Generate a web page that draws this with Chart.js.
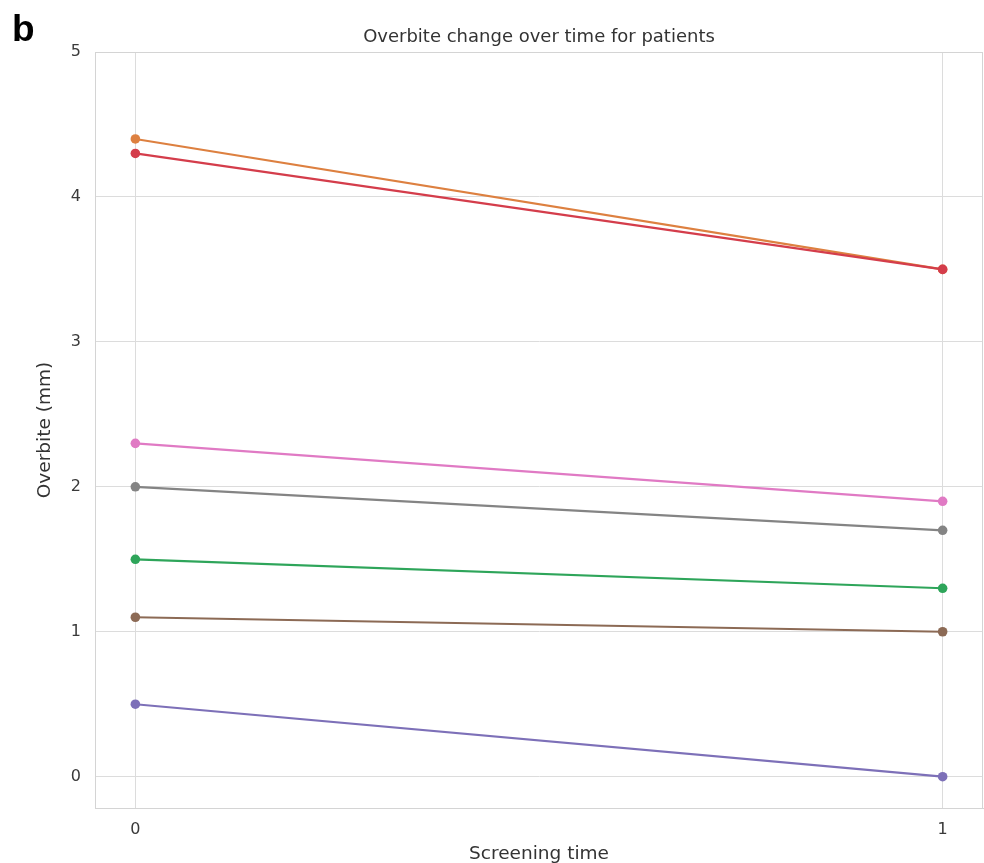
<!DOCTYPE html>
<html>
<head>
<meta charset="utf-8">
<script src="https://cdn.jsdelivr.net/npm/chart.js@4/dist/chart.umd.min.js"></script>
<style>
  html, body { margin: 0; padding: 0; background: #ffffff; }
  #wrap { position: relative; width: 984px; height: 863px; }
  #panel { position: absolute; left: 12px; top: 8px; font-family: "Liberation Sans", Arial, sans-serif; font-weight: bold; font-size: 37px; color: #000; }
</style>
</head>
<body>
<div id="wrap">
  <canvas id="c" width="984" height="863"></canvas>
  <div id="panel">b</div>
</div>
<script>
// Data
const screeningTimes = [0, 1];
const xTickValues = [0, 1];
const yTickValues = [0, 1, 2, 3, 4, 5];
const seriesNames = ["P1", "P2", "P3", "P4", "P5", "P6", "P7"];
const orangeValues = [4.4, 3.5];
const redValues = [4.3, 3.5];
const pinkValues = [2.3, 1.9];
const grayValues = [2.0, 1.7];
const greenValues = [1.5, 1.3];
const brownValues = [1.1, 1.0];
const purpleValues = [0.5, 0.0];
const seriesValues = [orangeValues, greenValues, redValues, purpleValues, brownValues, pinkValues, grayValues];
const seriesColors = ["#dd8040", "#2ea55a", "#d43d4b", "#7d70b8", "#8c6a55", "#e07ac4", "#848484"];

const n = seriesValues.length;
const datasets = seriesValues.map((vals, i) => ({
  label: seriesNames[i],
  data: screeningTimes.map((t, j) => ({ x: t, y: vals[j] })),
  borderColor: seriesColors[i],
  backgroundColor: seriesColors[i],
  borderWidth: 2.2,
  pointRadius: 4.8,
  pointHoverRadius: 4.8,
  pointBorderWidth: 0,
  tension: 0,
  order: n - i
}));

const frame = {
  id: 'frame',
  afterDraw(chart) {
    const { ctx, chartArea: a } = chart;
    ctx.save();
    ctx.strokeStyle = '#d4d4d4';
    ctx.lineWidth = 1;
    ctx.strokeRect(Math.round(a.left) + 0.5, Math.round(a.top) + 0.5, Math.round(a.right - a.left) - 1, Math.round(a.bottom - a.top));
    ctx.restore();
  }
};

const font = "'DejaVu Sans', sans-serif";

new Chart(document.getElementById('c'), {
  type: 'line',
  data: { datasets },
  plugins: [frame],
  options: {
    responsive: false,
    animation: false,
    layout: { autoPadding: false, padding: { top: 0, right: 1, bottom: 0, left: 0 } },
    plugins: {
      legend: { display: false },
      tooltip: { enabled: false },
      title: { display: false }
    },
    scales: {
      xTop: {
        type: 'linear',
        position: 'top',
        min: -0.05,
        max: 1.05,
        afterFit: s => { s.height = 52; },
        ticks: { display: false },
        grid: { display: false, drawTicks: false },
        border: { display: false },
        title: { display: true, text: 'Overbite change over time for patients', color: '#333333', font: { family: font, size: 18 }, padding: { top: 27, bottom: 0 } }
      },
      x: {
        type: 'linear',
        position: 'bottom',
        min: -0.05,
        max: 1.05,
        afterBuildTicks: s => { s.ticks = xTickValues.map(v => ({ value: v })); },
        afterFit: s => { s.height = 55; },
        ticks: { color: '#3a3a3a', font: { family: font, size: 16 }, padding: 12, callback: v => String(v) },
        grid: { color: '#dcdcdc', drawTicks: false, lineWidth: 1 },
        border: { color: '#d4d4d4' },
        title: { display: true, text: 'Screening time', color: '#333333', font: { family: font, size: 18.5, lineHeight: 1.0 }, padding: { top: 0, bottom: 0 } }
      },
      y: {
        type: 'linear',
        min: -0.216,
        max: 5,
        afterBuildTicks: s => { s.ticks = yTickValues.map(v => ({ value: v })); },
        afterFit: s => { s.width = 95; },
        ticks: { color: '#3a3a3a', font: { family: font, size: 16 }, padding: 14, callback: v => String(v) },
        grid: { color: '#dcdcdc', drawTicks: false, lineWidth: 1 },
        border: { color: '#d4d4d4' },
        title: { display: true, text: 'Overbite (mm)', color: '#333333', font: { family: font, size: 18.5 }, padding: { top: 34, bottom: 0 } }
      }
    }
  }
});
</script>
</body>
</html>
